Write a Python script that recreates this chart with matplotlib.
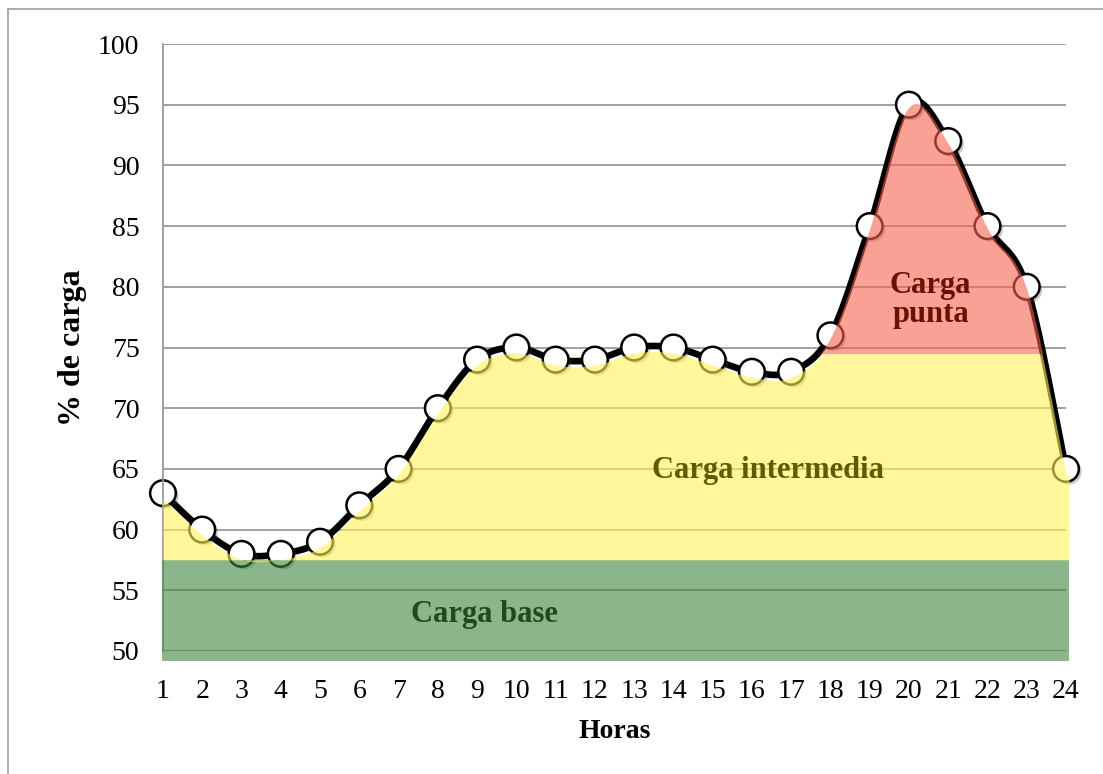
import numpy as np
import matplotlib
matplotlib.use('Agg')
import matplotlib.pyplot as plt
import matplotlib.patheffects as pe
from matplotlib.lines import Line2D

# datos: % de carga por hora
horas = np.arange(1, 25)
carga = np.array([63, 60, 58, 58, 59, 62, 65, 70, 74, 75, 74, 74,
                  75, 75, 74, 73, 73, 76, 85, 95, 92, 85, 80, 65])

# niveles que separan las zonas
nivel_base = 57.5
nivel_intermedio = 74.5

etiquetas_zonas = ['Carga base', 'Carga intermedia', 'Carga\npunta']


def suavizar(x, y, n=40):
    # curva tipo excel (bezier con puntos vecinos)
    xs, ys = [], []
    px = np.concatenate([[x[0]], x, [x[-1]]])
    py = np.concatenate([[y[0]], y, [y[-1]]])
    t = np.linspace(0, 1, n, endpoint=False)
    for i in range(1, len(px) - 2):
        p0 = np.array([px[i], py[i]])
        p3 = np.array([px[i + 1], py[i + 1]])
        p1 = p0 + (np.array([px[i + 1], py[i + 1]]) - np.array([px[i - 1], py[i - 1]])) / 6
        p2 = p3 - (np.array([px[i + 2], py[i + 2]]) - p0) / 6
        b = ((1 - t) ** 3)[:, None] * p0 + (3 * (1 - t) ** 2 * t)[:, None] * p1 \
            + (3 * (1 - t) * t ** 2)[:, None] * p2 + (t ** 3)[:, None] * p3
        xs.append(b[:, 0])
        ys.append(b[:, 1])
    xs.append([x[-1]])
    ys.append([y[-1]])
    return np.concatenate(xs), np.concatenate(ys)


plt.rcParams['font.family'] = 'Liberation Serif'

fig = plt.figure(figsize=(11.03, 7.74), dpi=100)
ax = fig.add_axes([163 / 1103, 1 - 651 / 774, 903 / 1103, 607 / 774])

xs, ys = suavizar(horas.astype(float), carga.astype(float))

# linea suave + marcadores
ax.plot(xs, ys, color='black', lw=4.8, solid_capstyle='round', zorder=2, clip_on=False)
ax.plot(horas, carga, 'o', ms=18.5, mfc='white', mec='black', mew=1.8, zorder=2.1, clip_on=False,
        path_effects=[pe.SimplePatchShadow(offset=(2, -2), alpha=0.3), pe.Normal()])

# zonas (encima, semitransparentes)
techo = ys - 0.45
ax.fill_between([0.97, 24.08], 49.2, nivel_base, color='#3E843E', alpha=0.6, lw=0, zorder=3, clip_on=False)
amarillo = np.where(xs > 16, np.minimum(techo, nivel_intermedio), techo)
ax.fill_between(np.append(xs, 24.08), nivel_base, np.append(amarillo, amarillo[-1]),
                color='#FFF355', alpha=0.6, lw=0, zorder=3, clip_on=False)
ax.fill_between(xs, nivel_intermedio, ys - 0.2, where=(xs > 17) & (ys > nivel_intermedio),
                color='#F5624E', alpha=0.6, lw=0, zorder=3, interpolate=True)

# textos de las zonas
ax.text(9.18, 53.0, etiquetas_zonas[0], color='#1F4A1F', fontsize=22, fontweight='bold',
        ha='center', va='center', zorder=5)
ax.text(16.4, 64.9, etiquetas_zonas[1], color='#5F5B00', fontsize=22, fontweight='bold',
        ha='center', va='center', zorder=5)
ax.text(20.55, 78.9, etiquetas_zonas[2], color='#6A1202', fontsize=22, fontweight='bold',
        ha='center', va='center', linespacing=1.0, zorder=5)

ax.set_xlim(1, 24)
ax.set_ylim(50, 100)
ax.set_xticks(horas)
ax.set_yticks(np.arange(50, 101, 5))
ax.tick_params(length=0, labelsize=20)
ax.tick_params(axis='y', pad=17)
ax.tick_params(axis='x', pad=20)
ax.grid(axis='y', color='#9A9A9A', lw=1.3)
ax.set_axisbelow(True)
for s in ['top', 'right', 'bottom']:
    ax.spines[s].set_visible(False)
ax.spines['left'].set_color('#9A9A9A')
ax.spines['left'].set_linewidth(1.3)

ax.set_xlabel('Horas', fontsize=20, fontweight='bold', labelpad=11)
ax.set_ylabel('% de carga', fontsize=23, fontweight='bold', labelpad=8)

# marco exterior
fig.add_artist(Line2D([8 / 1103, 8 / 1103], [0, 1 - 9 / 774], color='#A0A0A0', lw=1.2))
fig.add_artist(Line2D([8 / 1103, 1], [1 - 9 / 774, 1 - 9 / 774], color='#A0A0A0', lw=1.2))

fig.savefig('out.png', dpi=100)
